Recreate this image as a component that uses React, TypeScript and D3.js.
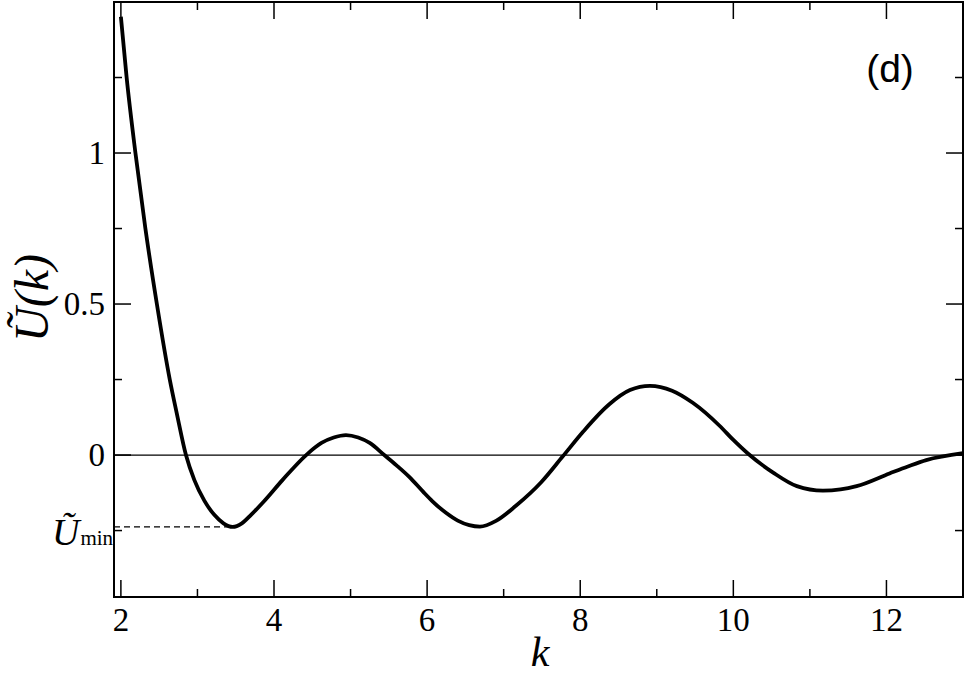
import React from "react";
import * as d3 from "d3";

// values
const kValues = [
  2.0, 2.075, 2.19, 2.32, 2.47, 2.64, 2.73, 2.85, 2.96, 3.09, 3.22, 3.34, 3.46,
  3.58, 3.7, 3.87, 4.11, 4.42, 4.62, 4.78, 4.94, 5.1, 5.25, 5.44, 5.6, 5.77,
  5.95, 6.07, 6.25, 6.4, 6.55, 6.69, 6.9, 7.16, 7.49, 7.77, 8.04, 8.38, 8.65,
  8.91, 9.2, 9.47, 9.82, 10.0, 10.19, 10.52, 10.83, 11.17, 11.4, 11.61, 12.04,
  12.28, 12.52, 13.0,
];
const uValues = [
  1.451, 1.25, 1.0, 0.75, 0.5, 0.248, 0.138, 0.0, -0.083, -0.151, -0.198,
  -0.226, -0.238, -0.226, -0.198, -0.153, -0.083, 0.0, 0.04, 0.058, 0.066,
  0.058, 0.04, 0.0, -0.034, -0.073, -0.122, -0.153, -0.192, -0.217, -0.232,
  -0.237, -0.218, -0.168, -0.09, -0.005, 0.078, 0.168, 0.215, 0.229, 0.213,
  0.173, 0.097, 0.05, 0.005, -0.058, -0.103, -0.118, -0.114, -0.103, -0.061,
  -0.038, -0.017, 0.006,
];
const uMin = -0.238;
const kAtMin = 3.46;

const xMajor = [2, 4, 6, 8, 10, 12];
const xMinor = [3, 5, 7, 9, 11];
const yMajor = [0, 0.5, 1];
const yMinor = [-0.25, 0.25, 0.75, 1.25];

const W = 968;
const H = 675;
const left = 114;
const right = 963;
const top = 2;
const bottom = 597;

const serif = "Liberation Serif, Times New Roman, Tinos, DejaVu Serif, serif";

const App = () => {
  const x = d3.scaleLinear().domain([1.91, 13]).range([left, right]);
  const y = d3.scaleLinear().domain([-0.47, 1.5]).range([bottom, top]);

  const points = kValues.map((k, i) => [k, uValues[i]] as [number, number]);
  const line = d3
    .line<[number, number]>()
    .x((d) => x(d[0]))
    .y((d) => y(d[1]))
    .curve(d3.curveMonotoneX);

  const major = 17;
  const minor = 8;
  const serifStyle = { fontFamily: serif };

  return (
    <div style={{ position: "absolute", left: 0, top: 0 }}>
      <svg width={W} height={H} style={{ display: "block" }}>
        <rect x={0} y={0} width={W} height={H} fill="white" />

        {/* zero line */}
        <line x1={left} x2={right} y1={y(0)} y2={y(0)} stroke="black" strokeWidth={1.3} />

        {/* U_min marker */}
        <line
          x1={left}
          x2={x(kAtMin)}
          y1={y(uMin)}
          y2={y(uMin)}
          stroke="black"
          strokeWidth={1.2}
          strokeDasharray="6,4"
        />

        <path d={line(points) || ""} fill="none" stroke="black" strokeWidth={3.8} />

        {/* ticks on all four sides */}
        {xMajor.map((t) => (
          <g key={"xM" + t}>
            <line x1={x(t)} x2={x(t)} y1={bottom} y2={bottom - major} stroke="black" strokeWidth={1.5} />
            <line x1={x(t)} x2={x(t)} y1={top} y2={top + major} stroke="black" strokeWidth={1.5} />
            <text x={x(t)} y={631} textAnchor="middle" style={serifStyle} fontSize={33}>
              {t}
            </text>
          </g>
        ))}
        {xMinor.map((t) => (
          <g key={"xm" + t}>
            <line x1={x(t)} x2={x(t)} y1={bottom} y2={bottom - minor} stroke="black" strokeWidth={1.5} />
            <line x1={x(t)} x2={x(t)} y1={top} y2={top + minor} stroke="black" strokeWidth={1.5} />
          </g>
        ))}
        {yMajor.map((t) => (
          <g key={"yM" + t}>
            <line x1={left} x2={left + major} y1={y(t)} y2={y(t)} stroke="black" strokeWidth={1.5} />
            <line x1={right} x2={right - major} y1={y(t)} y2={y(t)} stroke="black" strokeWidth={1.5} />
            <text x={105} y={y(t) + 11} textAnchor="end" style={serifStyle} fontSize={33}>
              {t}
            </text>
          </g>
        ))}
        {yMinor.map((t) => (
          <g key={"ym" + t}>
            <line x1={left} x2={left + minor} y1={y(t)} y2={y(t)} stroke="black" strokeWidth={1.5} />
            <line x1={right} x2={right - minor} y1={y(t)} y2={y(t)} stroke="black" strokeWidth={1.5} />
          </g>
        ))}

        <rect
          x={left}
          y={top}
          width={right - left}
          height={bottom - top}
          fill="none"
          stroke="black"
          strokeWidth={2}
        />

        {/* axis titles */}
        <text x={540} y={666} textAnchor="middle" style={serifStyle} fontStyle="italic" fontSize={42}>
          k
        </text>
        <text
          transform={`translate(48, 298) rotate(-90)`}
          textAnchor="middle"
          style={serifStyle}
          fontStyle="italic"
          fontSize={48}
        >
          Ũ(k)
        </text>

        {/* U_min label */}
        <text x={52} y={545} style={serifStyle} fontStyle="italic" fontSize={38}>
          Ũ
          <tspan fontStyle="normal" fontSize={21} dx={1}>
            min
          </tspan>
        </text>

        <text x={890} y={82} textAnchor="middle" fontFamily="Liberation Sans, Arial, sans-serif" fontSize={39}>
          (d)
        </text>
      </svg>
    </div>
  );
};

export default App;
